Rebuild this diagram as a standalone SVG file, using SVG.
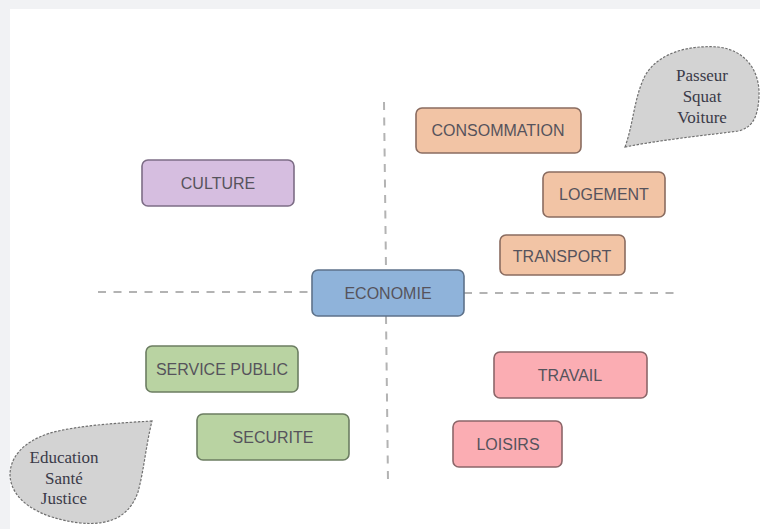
<svg xmlns="http://www.w3.org/2000/svg" width="760" height="529" viewBox="0 0 760 529">
<style>
.box{stroke-width:1.6}
.lbl{font-family:"Liberation Sans",Arial,sans-serif;font-size:16px;fill:#56535c;text-anchor:middle;dominant-baseline:central}
.bub{fill:#d3d3d3;stroke:#6f6f6f;stroke-width:1.2;stroke-dasharray:2.5 1.5}
.btxt{font-family:"Liberation Serif","Times New Roman",serif;font-size:17px;fill:#3a3a48;text-anchor:middle}
.dash{stroke:#b3b3b3;stroke-width:2;stroke-dasharray:8 7.5;fill:none}
.orange{fill:#f2c4a5;stroke:#8a6c60}
.purple{fill:#d6bee0;stroke:#7d6d86}
.blue{fill:#8fb3da;stroke:#5e728a}
.green{fill:#b9d3a2;stroke:#6c7d62}
.pink{fill:#fbadb3;stroke:#8c6669}
</style>
<rect x="0" y="0" width="760" height="529" fill="#f1f2f4"/>
<rect x="10" y="9" width="750" height="520" fill="#ffffff"/>
<g id="connectors">
<line class="dash" x1="98" y1="292" x2="312" y2="292"/>
<line class="dash" x1="464" y1="293" x2="677" y2="293"/>
<line class="dash" x1="384" y1="102" x2="386" y2="270"/>
<line class="dash" x1="386" y1="316" x2="388" y2="482"/>
</g>
<g id="bubble-top">
<path class="bub" d="M625,147 C634,122 634,96 646,74 C660,52 690,45 718,47 C745,50 760,70 759,96 C758,118 752,128 738,131 C700,136 660,140 625,147 Z"/>
<text class="btxt" x="702" y="81">Passeur</text>
<text class="btxt" x="702" y="102">Squat</text>
<text class="btxt" x="702" y="123">Voiture</text>
</g>
<g id="bubble-bottom">
<path class="bub" d="M152,421 C120,423 80,425 50,433 C22,442 10,458 10,475 C11,500 38,518 80,523 C112,526 130,515 138,492 C144,470 146,445 152,421 Z"/>
<text class="btxt" x="64" y="463">Education</text>
<text class="btxt" x="64" y="484">Santé</text>
<text class="btxt" x="64" y="504">Justice</text>
</g>
<g id="node-consommation">
<rect class="box orange" x="416" y="108" width="165" height="45" rx="6"/>
<text class="lbl" x="498" y="130">CONSOMMATION</text>
</g>
<g id="node-logement">
<rect class="box orange" x="543" y="172" width="122" height="45" rx="6"/>
<text class="lbl" x="604" y="194">LOGEMENT</text>
</g>
<g id="node-transport">
<rect class="box orange" x="500" y="235" width="125" height="40" rx="6"/>
<text class="lbl" x="562" y="256">TRANSPORT</text>
</g>
<g id="node-culture">
<rect class="box purple" x="142" y="160" width="152" height="46" rx="6"/>
<text class="lbl" x="218" y="183">CULTURE</text>
</g>
<g id="node-economie">
<rect class="box blue" x="312" y="270" width="152" height="46" rx="6"/>
<text class="lbl" x="388" y="293">ECONOMIE</text>
</g>
<g id="node-service-public">
<rect class="box green" x="146" y="346" width="152" height="46" rx="6"/>
<text class="lbl" x="222" y="369">SERVICE PUBLIC</text>
</g>
<g id="node-securite">
<rect class="box green" x="197" y="414" width="152" height="46" rx="6"/>
<text class="lbl" x="273" y="437">SECURITE</text>
</g>
<g id="node-travail">
<rect class="box pink" x="494" y="352" width="153" height="46" rx="6"/>
<text class="lbl" x="570" y="375">TRAVAIL</text>
</g>
<g id="node-loisirs">
<rect class="box pink" x="453" y="421" width="109" height="46" rx="6"/>
<text class="lbl" x="508" y="444">LOISIRS</text>
</g>
</svg>
